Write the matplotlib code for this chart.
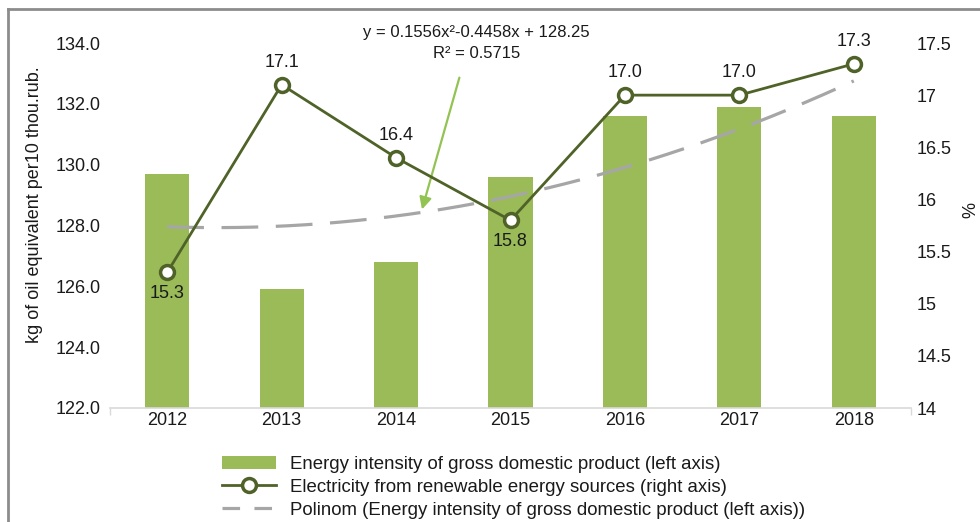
import matplotlib
matplotlib.use("Agg")
import matplotlib.pyplot as plt
import numpy as np
from matplotlib.lines import Line2D
from matplotlib.patches import Patch

plt.rcParams['font.family'] = ['Liberation Sans', 'DejaVu Sans']

years = ['2012', '2013', '2014', '2015', '2016', '2017', '2018']
energy_intensity = [129.7, 125.9, 126.8, 129.6, 131.6, 131.9, 131.6]
renewable_share = [15.3, 17.1, 16.4, 15.8, 17.0, 17.0, 17.3]
renewable_labels = ['15.3', '17.1', '16.4', '15.8', '17.0', '17.0', '17.3']
label_below = [True, False, False, True, False, False, False]
trend_coefs = [0.1556, -0.4458, 128.25]
left_ticks = [122.0, 124.0, 126.0, 128.0, 130.0, 132.0, 134.0]
right_ticks = [14, 14.5, 15, 15.5, 16, 16.5, 17, 17.5]

BAR = '#9bbb59'
LINE = '#4f6228'
TREND = '#a6a6a6'
ARROW = '#92c353'
TXT = '#1a1a1a'
FS = 13

fig = plt.figure(figsize=(9.8, 5.22), dpi=100)
ax = fig.add_axes([110/980, 1-408/522, (911-110)/980, (408-43)/522])
x = np.arange(len(years))

ax.bar(x, [v - 122.0 for v in energy_intensity], bottom=122.0, width=0.385, color=BAR, zorder=2)
xt = np.linspace(1, 7, 200)
ax.plot(xt - 1, np.polyval(trend_coefs, xt), color=TREND, lw=2.3, dashes=(11.5, 5.5), zorder=3)

ax.set_xlim(-0.5, 6.5)
ax.set_ylim(122, 134)
ax.set_yticks(left_ticks)
ax.set_yticklabels([f'{t:.1f}' for t in left_ticks], fontsize=FS, color=TXT)
ax.set_xticks(x)
ax.set_xticklabels(years, fontsize=FS, color=TXT)
ax.tick_params(axis='x', length=0, pad=3)
ax.tick_params(axis='y', length=0, pad=7)
ax.set_xticks([-0.5, 6.5], minor=True)
ax.tick_params(axis='x', which='minor', length=5, color='#d9d9d9', width=1)
for s in ['top', 'right', 'left']:
    ax.spines[s].set_visible(False)
ax.spines['bottom'].set_color('#d9d9d9')
ax.spines['bottom'].set_linewidth(1.2)
ax.patch.set_visible(False)
fig.text(35/980, 1-205/522, 'kg of oil equivalent per10 thou.rub.', rotation=90,
         ha='center', va='center', fontsize=FS, color=TXT)

ax2 = ax.twinx()
ax2.set_ylim(14, 17.5)
ax2.set_yticks(right_ticks)
ax2.set_yticklabels([f'{t:g}' for t in right_ticks], fontsize=FS, color=TXT)
ax2.tick_params(axis='y', length=0, pad=4)
for s in ['top', 'right', 'left', 'bottom']:
    ax2.spines[s].set_visible(False)
fig.text(971/980, 1-210/522, '%', rotation=90, ha='center', va='center', fontsize=FS, color=TXT)
ax2.plot(x, renewable_share, color=LINE, lw=2, marker='o', ms=10, mfc='white', mec=LINE, mew=2.5, zorder=5)
for xi, v, lab, below in zip(x, renewable_share, renewable_labels, label_below):
    ax2.annotate(lab, (xi, v), xytext=(0, -9 if below else 10), textcoords='offset points',
                 ha='center', va='top' if below else 'bottom', fontsize=FS, color=TXT)

ax.text(2.7, 134.0, 'y = 0.1556x²-0.4458x + 128.25\nR² = 0.5715', ha='center', va='center',
        fontsize=12, color=TXT, linespacing=1.46, clip_on=False, zorder=6)
ax.annotate('', xy=(2.22, 128.44), xytext=(2.56, 132.95),
            arrowprops=dict(arrowstyle='-|>', color=ARROW, lw=1.6, mutation_scale=18), zorder=6)

handles = [Patch(facecolor=BAR, edgecolor='none'),
           Line2D([], [], color=LINE, lw=2, marker='o', ms=10, mfc='white', mec=LINE, mew=2.5),
           Line2D([], [], color=TREND, lw=2.3, dashes=(5.5, 4.5))]
labels = ['Energy intensity of gross domestic product (left axis)',
          'Electricity from renewable energy sources (right axis)',
          'Polinom (Energy intensity of gross domestic product (left axis))']
fig.legend(handles, labels, loc='upper left', bbox_to_anchor=(222/980, 1-456/522), frameon=False,
           fontsize=13.4, handlelength=2.9, handletextpad=0.75, labelspacing=0.32, borderpad=0,
           borderaxespad=0, labelcolor=TXT)

# outer frame (cropped box)
fig.add_artist(Line2D([8/980, 8/980], [0, 1-9/522], color='#8c8c8c', lw=2, transform=fig.transFigure))
fig.add_artist(Line2D([8/980, 1], [1-9/522, 1-9/522], color='#8c8c8c', lw=2, transform=fig.transFigure))

fig.savefig('out.png', dpi=100)
